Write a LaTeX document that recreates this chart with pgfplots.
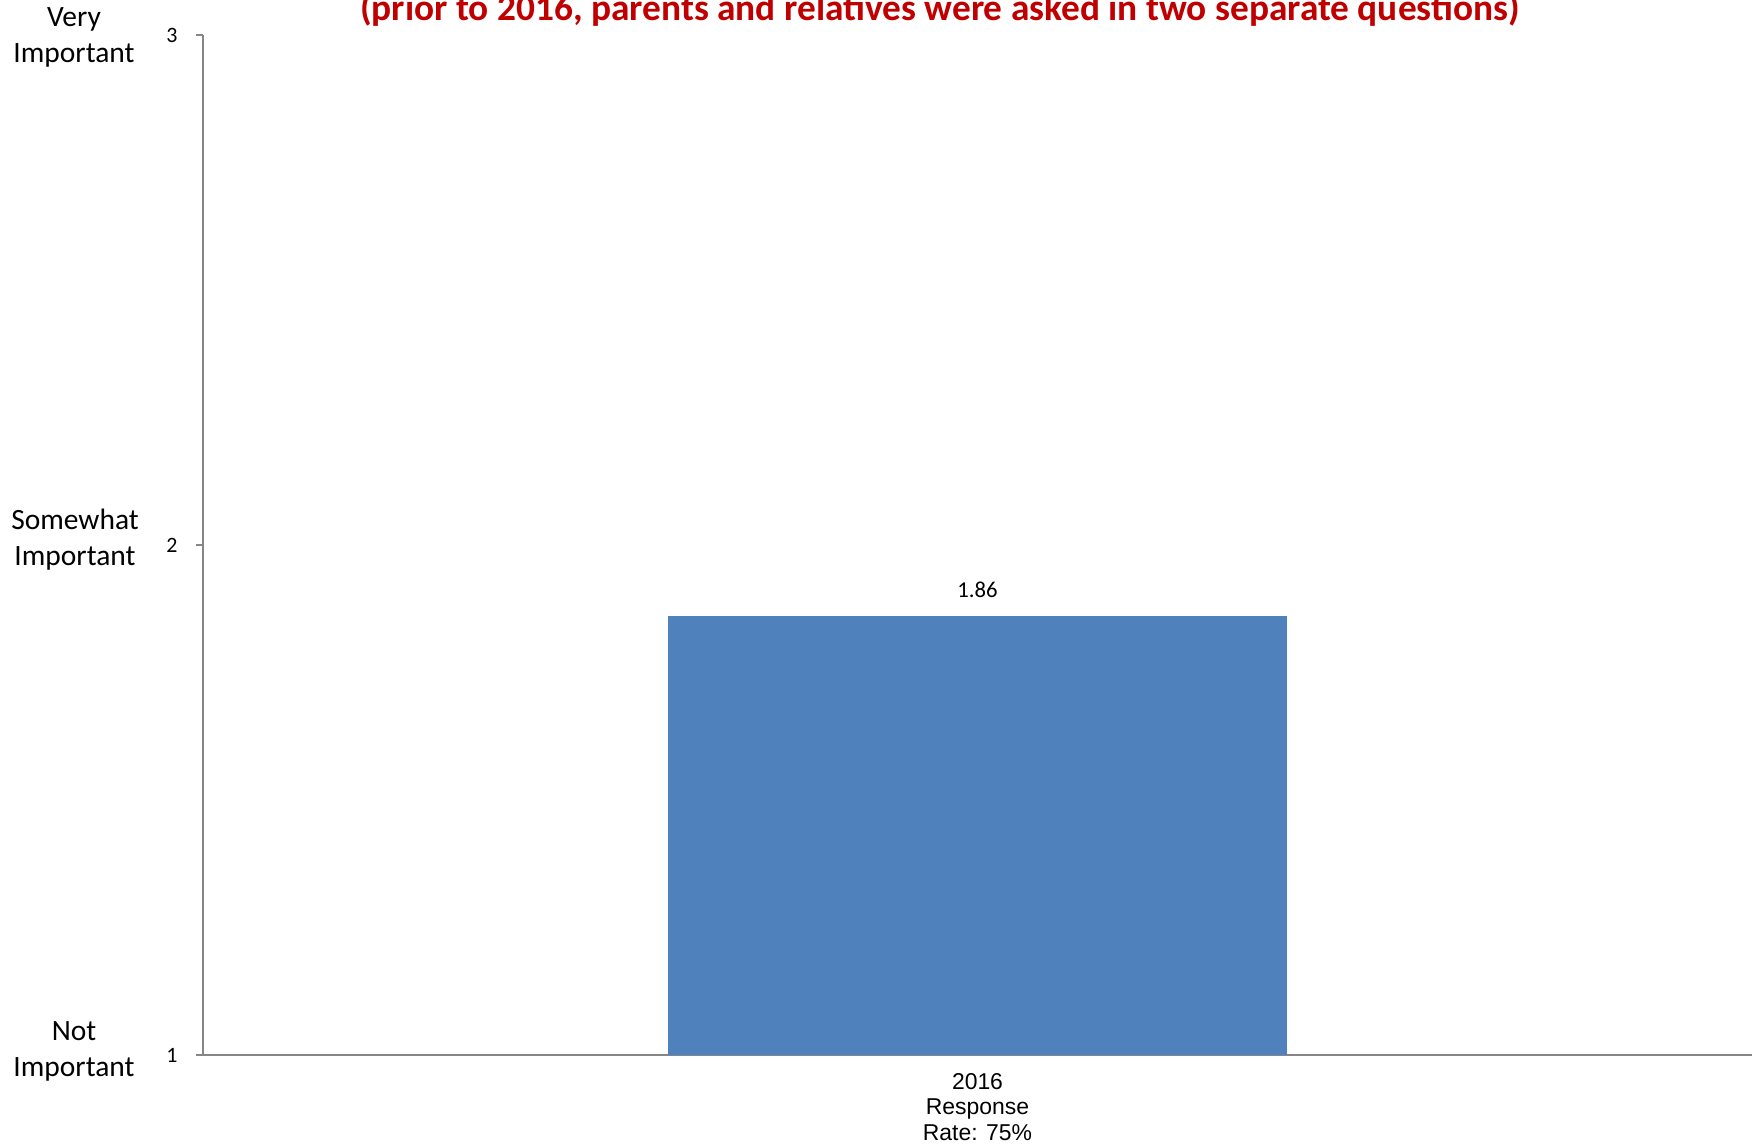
\documentclass[border=0pt]{standalone}
\usepackage{pgfplots}
\pgfplotsset{compat=1.18}
\usepackage{fontspec}
\setmainfont{Carlito}
\newfontfamily\arialfont{Liberation Sans}
\definecolor{barblue}{HTML}{4F81BD}
\definecolor{axisgray}{HTML}{868686}
\definecolor{titlered}{HTML}{C00000}
\begin{document}
\begin{tikzpicture}
\useasboundingbox (0,0) rectangle (876bp,574bp);
\clip (0,0) rectangle (876bp,574bp);
\begin{axis}[
  at={(101.5bp,46.5bp)}, anchor=south west,
  width=774.5bp, height=510bp, scale only axis,
  xmin=-1.25, xmax=1.25, ymin=1, ymax=3,
  axis x line*=bottom, axis y line*=left,
  axis line style={draw=axisgray, line width=1bp},
  /pgf/number format/assume math mode=true,
  ytick={1,2,3}, yticklabels={},
  tick align=outside,
  major tick length=3.5bp,
  ytick style={draw=axisgray, line width=0.8bp},
  xtick={0}, xticklabels={{2016\\Response\\Rate: 75\%}},
  xtick style={draw=none},
  x tick label style={font=\arialfont\fontsize{11.5}{13}\selectfont, align=center, yshift=-2bp},
  extra x ticks={-1.25,1.25}, extra x tick labels={},
  extra x tick style={tick style={draw=axisgray, line width=0.8bp}},
  ybar, bar width=309.5bp,
  nodes near coords,
  nodes near coords style={font=\fontsize{11.4}{13}\selectfont, anchor=center, yshift=13.5bp, text=black},
  clip=false,
]
\addplot[fill=barblue, draw=none] coordinates {(0,1.86)};
\end{axis}
\node[anchor=east, inner sep=0pt, font=\fontsize{11}{13}\selectfont] at (89bp,556.5bp) {3};
\node[anchor=east, inner sep=0pt, font=\fontsize{11}{13}\selectfont] at (89bp,301.5bp) {2};
\node[anchor=east, inner sep=0pt, font=\fontsize{11}{13}\selectfont] at (89bp,46.5bp) {1};
\node[align=center, font=\fontsize{14.8}{18}\selectfont] at (37bp,555.5bp) {Very\\Important};
\node[align=center, font=\fontsize{14.8}{18}\selectfont] at (37.5bp,304bp) {Somewhat\\Important};
\node[align=center, font=\fontsize{14.8}{18}\selectfont] at (37bp,48.5bp) {Not\\Important};
\node[anchor=base, font=\bfseries\fontsize{18.75}{22}\selectfont, text=titlered] at (470bp,563.5bp) {(prior to 2016, parents and relatives were asked in two separate questions)};
\end{tikzpicture}
\end{document}
